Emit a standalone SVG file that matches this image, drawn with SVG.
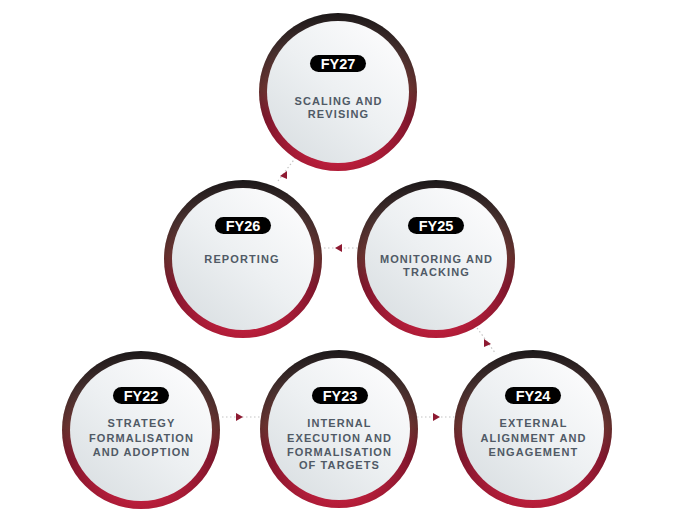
<svg xmlns="http://www.w3.org/2000/svg" width="698" height="523" viewBox="0 0 698 523">
  <defs>
    <linearGradient id="ring" x1="0" y1="0" x2="0" y2="1">
      <stop offset="0" stop-color="#1f1b1c"/>
      <stop offset="0.25" stop-color="#4a3230"/>
      <stop offset="0.48" stop-color="#6e3431"/>
      <stop offset="0.68" stop-color="#8a1830"/>
      <stop offset="1" stop-color="#c8203f"/>
    </linearGradient>
    <linearGradient id="face" x1="0.85" y1="0.1" x2="0.15" y2="0.9">
      <stop offset="0" stop-color="#fbfbfc"/>
      <stop offset="0.5" stop-color="#edf0f2"/>
      <stop offset="1" stop-color="#dce1e4"/>
    </linearGradient>
    <radialGradient id="shade" cx="0.5" cy="0.5" r="0.5">
      <stop offset="0.88" stop-color="#000" stop-opacity="0"/>
      <stop offset="1" stop-color="#000" stop-opacity="0.12"/>
    </radialGradient>
    <g id="disc">
      <circle r="79" fill="url(#ring)"/>
      <circle r="79" fill="url(#shade)"/>
      <circle r="71" fill="url(#face)"/>
    </g>
  </defs>
  <style>
    .pill { fill: #000; }
    .fy { font-family: "Liberation Sans", Arial, sans-serif; font-weight: bold; font-size: 14.5px; fill: #fff; text-anchor: middle; }
    .lbl { font-family: "Liberation Sans", Arial, sans-serif; font-weight: bold; font-size: 11px; letter-spacing: 1.1px; fill: #505a66; text-anchor: middle; }
    .dot { stroke: #c4c4c4; stroke-width: 1.2; stroke-dasharray: 1.5 2.5; fill: none; }
    .head { fill: #8e1a32; }
  </style>
  <rect width="698" height="523" fill="#fff"/>

  <g id="connectors">
    <line class="dot" x1="222" y1="417" x2="262" y2="417"/>
    <polygon class="head" points="236,413 243,417 236,421"/>
    <line class="dot" x1="417" y1="417" x2="456" y2="417"/>
    <polygon class="head" points="433,413 440,417 433,421"/>
    <line class="dot" x1="477" y1="328" x2="496" y2="354"/>
    <polygon class="head" points="484,339 491,344 484,347"/>
    <line class="dot" x1="320" y1="248" x2="358" y2="248"/>
    <polygon class="head" points="342,244 335,248 342,252"/>
    <line class="dot" x1="278" y1="181" x2="296" y2="157"/>
    <polygon class="head" points="287,171 280,176 287,179"/>
  </g>

  <g id="fy27">
    <use href="#disc" x="338" y="92"/>
    <rect class="pill" x="310" y="55" width="56" height="17" rx="8.5"/>
    <text class="fy" x="338" y="68.5">FY27</text>
    <text class="lbl" x="338.5" y="105">SCALING AND</text>
    <text class="lbl" x="338.5" y="118">REVISING</text>
  </g>

  <g id="fy26">
    <use href="#disc" x="243" y="259"/>
    <rect class="pill" x="215" y="217" width="56" height="17" rx="8.5"/>
    <text class="fy" x="243" y="230.5">FY26</text>
    <text class="lbl" x="242" y="263">REPORTING</text>
  </g>

  <g id="fy25">
    <use href="#disc" x="436" y="259"/>
    <rect class="pill" x="408" y="217" width="56" height="17" rx="8.5"/>
    <text class="fy" x="436" y="230.5">FY25</text>
    <text class="lbl" x="436.5" y="263">MONITORING AND</text>
    <text class="lbl" x="436.5" y="276">TRACKING</text>
  </g>

  <g id="fy22">
    <use href="#disc" x="141" y="430"/>
    <rect class="pill" x="113" y="387" width="56" height="17" rx="8.5"/>
    <text class="fy" x="141" y="400.5">FY22</text>
    <text class="lbl" x="141.5" y="427">STRATEGY</text>
    <text class="lbl" x="141.5" y="441.5">FORMALISATION</text>
    <text class="lbl" x="141.5" y="456">AND ADOPTION</text>
  </g>

  <g id="fy23">
    <use href="#disc" x="339" y="429"/>
    <rect class="pill" x="312" y="387" width="56" height="17" rx="8.5"/>
    <text class="fy" x="340" y="400.5">FY23</text>
    <text class="lbl" x="339.5" y="427">INTERNAL</text>
    <text class="lbl" x="339.5" y="441.5">EXECUTION AND</text>
    <text class="lbl" x="339.5" y="455.5">FORMALISATION</text>
    <text class="lbl" x="339.5" y="469">OF TARGETS</text>
  </g>

  <g id="fy24">
    <use href="#disc" x="533" y="429"/>
    <rect class="pill" x="505" y="387" width="56" height="17" rx="8.5"/>
    <text class="fy" x="533" y="400.5">FY24</text>
    <text class="lbl" x="533.5" y="427">EXTERNAL</text>
    <text class="lbl" x="533.5" y="441.5">ALIGNMENT AND</text>
    <text class="lbl" x="533.5" y="456">ENGAGEMENT</text>
  </g>
</svg>
